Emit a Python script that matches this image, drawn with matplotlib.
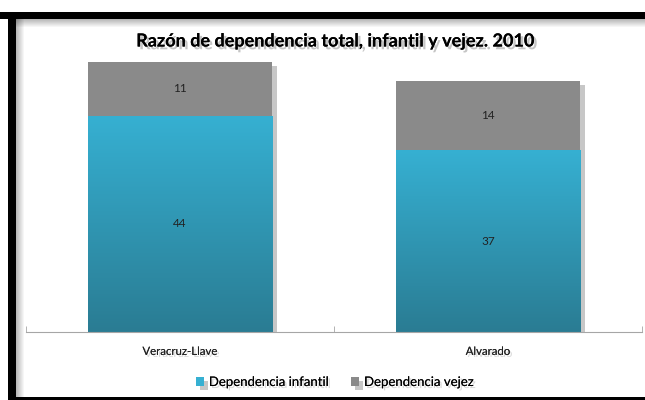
import numpy as np
import matplotlib.pyplot as plt
import matplotlib.patheffects as pe
from matplotlib.patches import Rectangle

plt.rcParams['font.family'] = ['Lato', 'DejaVu Sans']

# Data
municipios = ['Veracruz-Llave', 'Alvarado']
infantil = [44, 37]
vejez = [11, 14]
series_names = ['Dependencia infantil', 'Dependencia vejez']
title = 'Razón de dependencia total, infantil y vejez. 2010'

cyan_top = np.array([0x36, 0xB0, 0xD2]) / 255
cyan_bot = np.array([0x2A, 0x7C, 0x93]) / 255
gray = '#8A8A8A'

fig = plt.figure(figsize=(6.45, 4.0), dpi=100)
fig.patch.set_facecolor('white')

# Frame (black border like the original screenshot) with soft inner shadow
W, H = 645.0, 400.0
def frect(x0, y0, w, h, color, alpha=1.0):
    fig.patches.append(Rectangle((x0 / W, 1 - (y0 + h) / H), w / W, h / H, transform=fig.transFigure,
                                 facecolor=color, edgecolor='none', alpha=alpha, zorder=0))

for k in range(8):
    a = 0.28 * (1 - k / 8)
    frect(16, 19 + k, W, 1, 'black', a)
    frect(16 + k, 19, 1, H, 'black', a)
frect(0, 12, W, 7, 'black')
frect(8, 12, 8, H, 'black')
frect(8, 397, W, 3, 'black')

ax = fig.add_axes([26 / W, 68 / H, 616 / W, 295 / H])
x = np.arange(len(municipios))
w = 0.6
shadow = [pe.SimplePatchShadow(offset=(3, -3), shadow_rgbFace='black', alpha=0.22), pe.Normal()]

b1 = ax.bar(x, infantil, width=w, color=cyan_top, edgecolor='none', zorder=2,
            label=series_names[0], path_effects=shadow)
b2 = ax.bar(x, vejez, width=w, bottom=infantil, color=gray, edgecolor='none', zorder=2,
            label=series_names[1], path_effects=shadow)

# vertical gradient on the infantil bars
grad = np.linspace(0, 1, 256)[:, None]
cols = cyan_top[None, :] * (1 - grad) + cyan_bot[None, :] * grad
img = np.repeat(cols[:, None, :], 2, axis=1)
for bar in b1:
    bx, by = bar.get_x(), bar.get_y()
    im = ax.imshow(img, extent=[bx, bx + bar.get_width(), by, by + bar.get_height()],
                   aspect='auto', zorder=2.5, origin='upper')
    im.set_clip_path(bar)

txt_fx = [pe.withSimplePatchShadow(offset=(1.5, -1.5), shadow_rgbFace='gray', alpha=0.3), pe.Normal()]
for i in range(len(municipios)):
    ax.text(x[i], infantil[i] / 2, str(infantil[i]), ha='center', va='center',
            fontsize=8.5, color='#222222', zorder=4)
    ax.text(x[i], infantil[i] + vejez[i] / 2, str(vejez[i]), ha='center', va='center',
            fontsize=8.5, color='#222222', zorder=4)

ax.set_xlim(-0.5, 1.5)
ax.set_ylim(0, 60)
ax.set_yticks([])
for s in ['top', 'right', 'left']:
    ax.spines[s].set_visible(False)
ax.spines['bottom'].set_color('#A6A6A6')
ax.set_xticks([-0.5, 0.5, 1.5], minor=True)
ax.set_xticks(x)
ax.set_xticklabels(municipios, fontsize=8.2, color='#222222')
ax.tick_params(axis='x', which='major', length=0, pad=10)
ax.tick_params(axis='x', which='minor', length=4, color='#A6A6A6', direction='in')
for t in ax.get_xticklabels():
    t.set_path_effects(txt_fx)
ax.set_facecolor('none')

fig.text(335 / W, 1 - 41 / H, title, ha='center', va='center', fontsize=13, fontweight='bold',
         path_effects=[pe.withSimplePatchShadow(offset=(2, -2), shadow_rgbFace='gray', alpha=0.45), pe.Normal()])

leg = fig.legend(handles=[b1, b2], labels=series_names, loc='center', bbox_to_anchor=(335 / W, 1 - 382 / H),
                 ncol=2, frameon=False, fontsize=9.5, handlelength=0.6, handleheight=0.6,
                 handletextpad=0.4, columnspacing=1.6)
for t in leg.get_texts():
    t.set_path_effects(txt_fx)

fig.savefig('out.png', dpi=100)
